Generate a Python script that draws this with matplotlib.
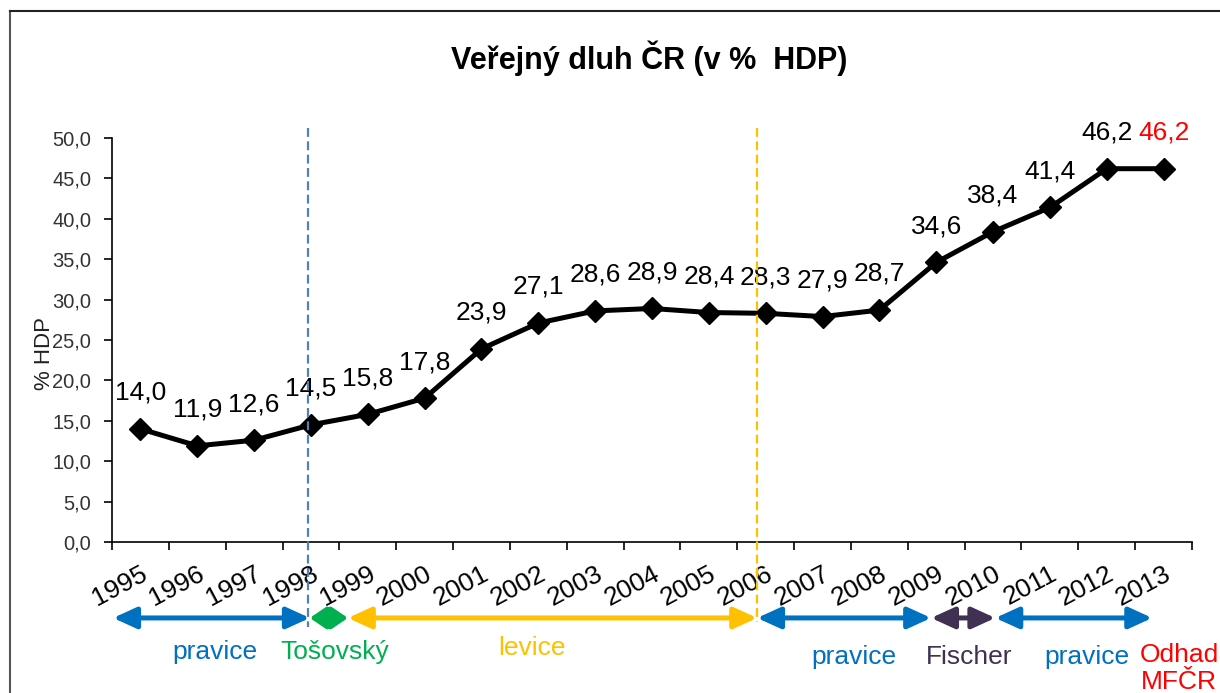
import matplotlib
matplotlib.use("Agg")
import matplotlib.pyplot as plt
from matplotlib.lines import Line2D

plt.rcParams['font.family'] = ['Liberation Sans', 'DejaVu Sans']

# ---- data ----
years = [str(y) for y in range(1995, 2014)]
debt = [14.0, 11.9, 12.6, 14.5, 15.8, 17.8, 23.9, 27.1, 28.6, 28.9,
        28.4, 28.3, 27.9, 28.7, 34.6, 38.4, 41.4, 46.2, 46.2]
label_colors = ['black'] * 18 + ['#FF0000']
yticks = [0, 5, 10, 15, 20, 25, 30, 35, 40, 45, 50]

# government periods (start, end in category units), colour, label, label x
period_start = [-0.48, 2.98, 3.65, 10.85, 13.91, 15.04]
period_end = [2.98, 3.65, 10.85, 13.91, 15.04, 17.80]
period_color = ['#0070C0', '#00B050', '#FFC000', '#0070C0', '#403152', '#0070C0']
period_label = ['pravice', 'Tošovský', 'levice', 'pravice', 'Fischer', 'pravice']
period_label_x = [1.31, 3.42, 6.89, 12.55, 14.58, 16.65]
period_label_y = [-0.272, -0.272, -0.262, -0.285, -0.285, -0.285]

fig = plt.figure(figsize=(12.2, 6.93), dpi=100)
ax = fig.add_axes([112/1220, 1-542/693, 1080/1220, 404/693])

x = list(range(len(years)))
ax.plot(x, debt, color='black', lw=3.6, marker='D', ms=11, mfc='black',
        mec='black', zorder=3)

for xi, v, c in zip(x, debt, label_colors):
    ax.annotate(f"{v:.1f}".replace('.', ','), (xi, v), xytext=(0, 26),
                textcoords='offset points', ha='center', va='center',
                fontsize=19, color=c)

ax.set_xlim(-0.5, len(years) - 0.5)
ax.set_ylim(0, 50)
ax.set_yticks(yticks)
ax.set_yticklabels([f"{t:.1f}".replace('.', ',') for t in yticks],
                   fontsize=14.5, color='#333333')
ax.tick_params(axis='y', direction='out', length=6, width=1.2, pad=9)

ax.set_xticks(x)
ax.set_xticklabels(years, fontsize=19)
ax.set_xticks([i - 0.5 for i in range(len(years) + 1)], minor=True)
ax.tick_params(axis='x', which='major', length=0, pad=14)
ax.tick_params(axis='x', which='minor', direction='out', length=6, width=1.2)
plt.setp(ax.get_xticklabels(), rotation=28, ha='right', va='top',
         rotation_mode='anchor')

for s in ['top', 'right']:
    ax.spines[s].set_visible(False)
for s in ['left', 'bottom']:
    ax.spines[s].set_linewidth(1.2)
    ax.spines[s].set_color('black')

# vertical dashed separators
trans = ax.get_xaxis_transform()
ax.add_line(Line2D([2.95, 2.95], [1.025, -0.21], transform=trans, color='#4F81BD',
                   lw=1.6, ls=(0, (4, 2)), clip_on=False, zorder=4))
ax.add_line(Line2D([10.85, 10.85], [1.025, -0.198], transform=trans, color='#FFC000',
                   lw=1.6, ls=(0, (4, 2)), clip_on=False, zorder=4))

# period arrows
arrow_y = -0.188
for s, e, c in zip(period_start, period_end, period_color):
    hl = min(0.7, (e - s) * 0.7)
    ax.annotate('', xy=(e, arrow_y), xytext=(s, arrow_y), xycoords=trans,
                textcoords=trans, annotation_clip=False,
                arrowprops=dict(arrowstyle=f'<|-|>,head_length={hl:.2f},head_width=0.32',
                                color=c, lw=3.6, shrinkA=0, shrinkB=0,
                                mutation_scale=20))
for lx, ly, lab, c in zip(period_label_x, period_label_y, period_label, period_color):
    ax.text(lx, ly, lab, transform=trans, ha='center', va='center',
            fontsize=19, color=c, clip_on=False)
ax.text(18.27, -0.28, 'Odhad', transform=trans, ha='center', va='center',
        fontsize=19, color='#FF0000', clip_on=False)
ax.text(18.27, -0.347, 'MFČR', transform=trans, ha='center', va='center',
        fontsize=19, color='#FF0000', clip_on=False)

# titles
fig.text(649/1220, 1-58/693, 'Veřejný dluh ČR (v %  HDP)', ha='center', va='center',
         fontsize=22, fontweight='bold')
fig.text(44/1220, 1-354/693, '% HDP', rotation=90, ha='center', va='center',
         fontsize=16, color='#222222')

# outer frame fragments
fig.add_artist(Line2D([10/1220, 10/1220], [0, 1-11/693], transform=fig.transFigure,
                      color='#555555', lw=1.5))
fig.add_artist(Line2D([10/1220, 1], [1-11/693, 1-11/693], transform=fig.transFigure,
                      color='#222222', lw=1.5))

fig.savefig('out.png', dpi=100)
